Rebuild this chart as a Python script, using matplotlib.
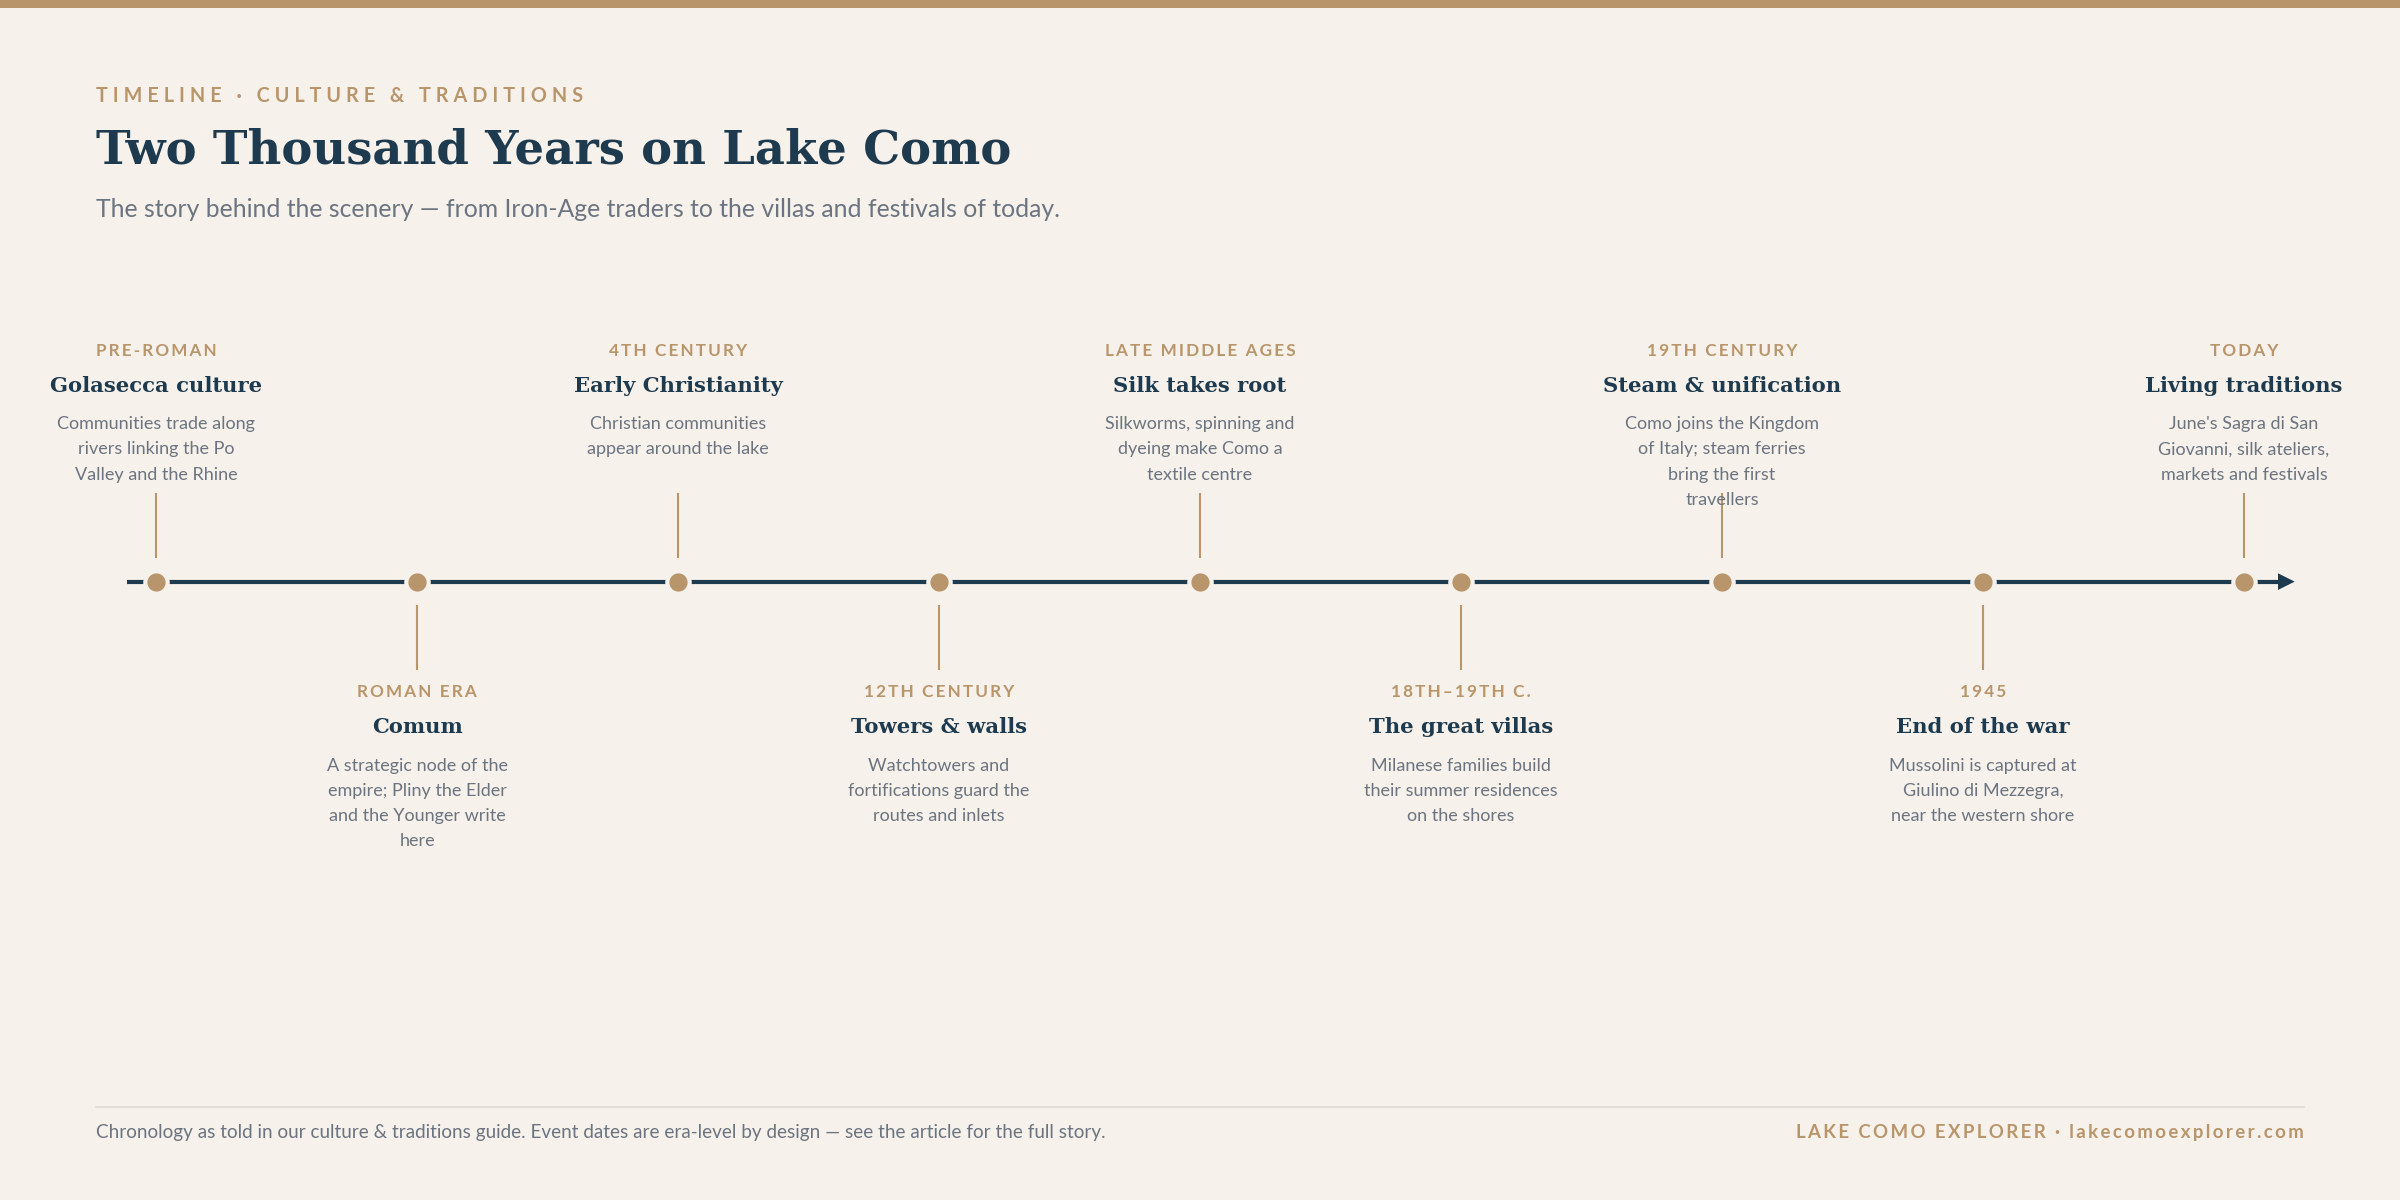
import numpy as np
import matplotlib.pyplot as plt

GOLD = '#b8956a'
NAVY = '#1d3a4f'
GREY = '#6b7480'
BG = '#f6f1ea'

eras = ['PRE-ROMAN', 'ROMAN ERA', '4TH CENTURY', '12TH CENTURY', 'LATE MIDDLE AGES',
        '18TH–19TH C.', '19TH CENTURY', '1945', 'TODAY']
titles = ['Golasecca culture', 'Comum', 'Early Christianity', 'Towers & walls', 'Silk takes root',
          'The great villas', 'Steam & unification', 'End of the war', 'Living traditions']
descs = [
    'Communities trade along\nrivers linking the Po\nValley and the Rhine',
    'A strategic node of the\nempire; Pliny the Elder\nand the Younger write\nhere',
    'Christian communities\nappear around the lake',
    'Watchtowers and\nfortifications guard the\nroutes and inlets',
    'Silkworms, spinning and\ndyeing make Como a\ntextile centre',
    'Milanese families build\ntheir summer residences\non the shores',
    'Como joins the Kingdom\nof Italy; steam ferries\nbring the first\ntravellers',
    'Mussolini is captured at\nGiulino di Mezzegra,\nnear the western shore',
    "June's Sagra di San\nGiovanni, silk ateliers,\nmarkets and festivals",
]
sides = ['up', 'down', 'up', 'down', 'up', 'down', 'up', 'down', 'up']

SANS = ['Lato', 'DejaVu Sans']
SERIF = ['DejaVu Serif']


def spaced(s, n=1):
    return ('\u2009' * n).join(s)


fig = plt.figure(figsize=(24, 12), dpi=100, facecolor=BG)
ax = fig.add_axes([0, 0, 1, 1])
ax.set_xlim(0, 1568)
ax.set_ylim(784, 0)
ax.axis('off')
ax.set_facecolor(BG)

# top bar
ax.fill_between([0, 1568], 0, 5, color=GOLD, lw=0)

ax.text(63, 63, spaced('TIMELINE · CULTURE & TRADITIONS', 2), color=GOLD, fontsize=14.2,
        fontweight='bold', family=SANS, va='center')
ax.text(63, 98, 'Two Thousand Years on Lake Como', color=NAVY, fontsize=33.5,
        fontweight='bold', family=SERIF, va='center')
ax.text(63, 137, 'The story behind the scenery — from Iron-Age traders to the villas and festivals of today.',
        color=GREY, fontsize=17.8, family=SANS, va='center')

# axis line
y0 = 380
ax.plot([83, 1490], [y0, y0], color=NAVY, lw=3, solid_capstyle='butt', zorder=1)
ax.annotate('', xy=(1501, y0), xytext=(1485, y0),
            arrowprops=dict(arrowstyle='-|>,head_length=1.2,head_width=0.6', color=NAVY, lw=0))

xs = 102 + 170.5 * np.arange(len(eras))
for x, era, title, desc, side in zip(xs, eras, titles, descs, sides):
    ax.scatter([x], [y0], s=260, color=GOLD, edgecolor=BG, linewidth=3, zorder=3)
    if side == 'up':
        ax.plot([x, x], [323, 364], color=GOLD, lw=1.5)
        ye = 229
    else:
        ax.plot([x, x], [396, 437], color=GOLD, lw=1.5)
        ye = 452
    ax.text(x, ye, spaced(era), color=GOLD, fontsize=12.3, fontweight='bold', family=SANS,
            ha='center', va='center')
    ax.text(x, ye + 23, title, color=NAVY, fontsize=15.2, fontweight='bold', family=SERIF,
            ha='center', va='center')
    ax.text(x, ye + 43, desc, color=GREY, fontsize=13, family=SANS, ha='center', va='top',
            linespacing=1.7)

# footer
ax.plot([63, 1505], [723, 723], color='#ddd8d0', lw=1.2)
ax.text(63, 740, 'Chronology as told in our culture & traditions guide. Event dates are era-level by design — see the article for the full story.',
        color=GREY, fontsize=13.6, family=SANS, va='center')
ax.text(1505, 740, spaced('LAKE COMO EXPLORER · lakecomoexplorer.com'),
        color=GOLD, fontsize=13.4, fontweight='bold', family=SANS, va='center', ha='right')

fig.savefig('out.png', dpi=100, facecolor=BG)
